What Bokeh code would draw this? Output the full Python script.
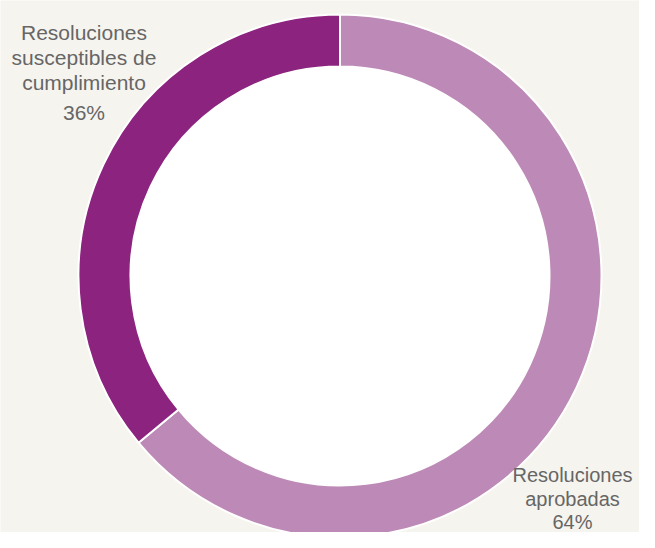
import math
from bokeh.plotting import figure
from bokeh.models import Range1d, ColumnDataSource
from bokeh.core.properties import value
from bokeh.embed import file_html
from bokeh.resources import INLINE

categories = ["Resoluciones aprobadas", "Resoluciones susceptibles de cumplimiento"]
shares = [64, 36]
colors = ["#BD89B6", "#8C237E"]
label_lines = [["Resoluciones", "aprobadas", "64%"],
               ["Resoluciones", "susceptibles de", "cumplimiento", "36%"]]

W, H = 639, 532
cx, cy = 339.5, H - 275.5
r_out, r_in = 261.5, 209.5

p = figure(width=W, height=H, output_backend="svg", toolbar_location=None,
           x_range=Range1d(0, W), y_range=Range1d(0, H), min_border=0)
p.axis.visible = False
p.grid.visible = False
p.outline_line_color = None
p.background_fill_color = "#F6F4EE"
p.border_fill_color = "#F6F4EE"

total = sum(shares)
starts, ends = [], []
a = math.pi / 2
for s in shares:
    ang = 2 * math.pi * s / total
    starts.append(a - ang)
    ends.append(a)
    a -= ang

src = ColumnDataSource(dict(start=starts, end=ends, color=colors))
p.circle(x=[cx], y=[cy], radius=r_in, fill_color="white", line_color=None)
p.annular_wedge(x=cx, y=cy, inner_radius=r_in, outer_radius=r_out,
                start_angle="start", end_angle="end", fill_color="color",
                line_color="white", line_width=2, source=src)

# labels
right_y = [474, 498, 521]
left_y = [32, 57, 82, 112]
p.text(x=[572] * 3, y=[H - v for v in right_y], text=label_lines[0],
       text_align="center", text_baseline="middle", text_color="#666666",
       text_font=value("Liberation Sans"), text_font_size="20px")
p.text(x=[83.5] * 4, y=[H - v for v in left_y], text=label_lines[1],
       text_align="center", text_baseline="middle", text_color="#666666",
       text_font=value("Liberation Sans"), text_font_size="21px")

html = file_html(p, INLINE)
html = html.replace("<body>", '<body style="background:#F6F4EE">', 1)
open("out.html", "w").write(html)
